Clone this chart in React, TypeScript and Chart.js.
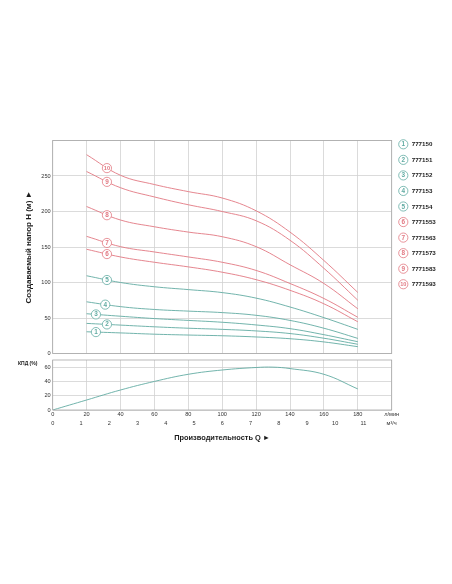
import React, { useEffect, useRef } from 'react';
import { Chart, registerables } from 'chart.js';

Chart.register(...registerables);

// ---- data ----
const FLOW = [20, 40, 60, 80, 100, 120, 140, 160, 180];
const H_1 = [30.6, 29, 27.2, 26, 25, 23.3, 20.8, 16.3, 9.6];
const H_2 = [42.4, 40, 37.6, 35.6, 34, 31.8, 28.1, 21.5, 13];
const H_3 = [56, 52.5, 49.2, 46.6, 44, 40.2, 35, 26.5, 16.6];
const H_4 = [72.8, 66, 62, 59.7, 57.6, 53.8, 46.6, 35.6, 21.3];
const H_5 = [109.5, 100, 94, 90, 85.8, 78, 65.5, 50.5, 34];
const H_6 = [146.8, 136, 128.5, 122, 114.5, 104, 89, 70, 44.7];
const H_7 = [165, 150.5, 143, 136, 128.5, 117, 98.6, 77.5, 51];
const H_8 = [207, 188, 178.5, 171, 164.5, 150.5, 125, 98.6, 63];
const H_9 = [256.3, 233.5, 220.5, 209.5, 200, 187, 159.5, 120, 75];
const H_10 = [280, 251, 238, 228, 219, 201, 171, 131, 86];
const HEADS = [H_1, H_2, H_3, H_4, H_5, H_6, H_7, H_8, H_9, H_10];
const MODELS = ['777150', '777151', '777152', '777153', '777154', '7771553', '7771563', '7771573', '7771583', '7771593'];
const LABEL_Q = [25.5, 32, 25.5, 31, 32, 32, 32, 32, 32, 32];

const EFF_FLOW = [0, 20, 40, 60, 80, 100, 120, 130, 140, 160, 180];
const EFF = [0, 14, 28, 40, 50, 56, 59.5, 60, 58, 50, 29.5];

const Y_TITLE = 'Создаваемый напор H (м) ►';
const X_TITLE = 'Производительность Q ►';
const EFF_TITLE = 'КПД (%)';
const UNIT_LPM = 'л/мин';
const UNIT_M3H = 'м³/ч';

const TEAL = '#62aca3';
const RED = '#e27882';
const GRID = '#d2d2d2';
const FRAME = '#a8a8a8';
const TXT = '#333333';
const FONT = "'Liberation Sans', Arial, sans-serif";

const colorOf = (i: number) => (i < 5 ? TEAL : RED);

function bezierYAt(pts: any[], px: number): number {
  for (let i = 0; i < pts.length - 1; i++) {
    const a = pts[i], b = pts[i + 1];
    if (px >= a.x && px <= b.x) {
      const x0 = a.x, x1 = a.cp2x ?? a.x, x2 = b.cp1x ?? b.x, x3 = b.x;
      const y0 = a.y, y1 = a.cp2y ?? a.y, y2 = b.cp1y ?? b.y, y3 = b.y;
      const bx = (t: number) => {
        const u = 1 - t;
        return u * u * u * x0 + 3 * u * u * t * x1 + 3 * u * t * t * x2 + t * t * t * x3;
      };
      let lo = 0, hi = 1;
      for (let k = 0; k < 40; k++) {
        const m = (lo + hi) / 2;
        if (bx(m) < px) lo = m; else hi = m;
      }
      const t = (lo + hi) / 2, u = 1 - t;
      return u * u * u * y0 + 3 * u * u * t * y1 + 3 * u * t * t * y2 + t * t * t * y3;
    }
  }
  return pts[0].y;
}

function drawBadge(ctx: CanvasRenderingContext2D, x: number, y: number, n: number, color: string) {
  ctx.save();
  ctx.beginPath();
  ctx.arc(x, y, 4.6, 0, Math.PI * 2);
  ctx.fillStyle = '#ffffff';
  ctx.fill();
  ctx.lineWidth = 0.8;
  ctx.strokeStyle = color;
  ctx.stroke();
  ctx.fillStyle = color;
  ctx.font = `bold ${n >= 10 ? 5.6 : 6.4}px ${FONT}`;
  ctx.textAlign = 'center';
  ctx.textBaseline = 'middle';
  ctx.fillText(String(n), x, y + 0.3);
  ctx.restore();
}

const framePlugin = {
  id: 'frame',
  afterDraw(chart: any) {
    const { ctx, chartArea: a } = chart;
    ctx.save();
    ctx.strokeStyle = FRAME;
    ctx.lineWidth = 0.8;
    ctx.strokeRect(a.left, a.top, a.right - a.left, a.bottom - a.top);
    ctx.restore();
  },
};

const curveLabelPlugin = {
  id: 'curveLabels',
  afterDatasetsDraw(chart: any) {
    const ctx = chart.ctx;
    const xs = chart.scales.x;
    chart.data.datasets.forEach((_ds: any, i: number) => {
      const meta = chart.getDatasetMeta(i);
      const px = xs.getPixelForValue(LABEL_Q[i]);
      const py = bezierYAt(meta.data, px);
      drawBadge(ctx, px, py, i + 1, colorOf(i));
    });
  },
};

const legendPlugin = {
  id: 'sideLegend',
  afterDraw(chart: any) {
    const { ctx, chartArea: a } = chart;
    MODELS.forEach((m, i) => {
      const cx = a.right + 11.6;
      const cy = a.top + 3.8 + i * 15.55;
      drawBadge(ctx, cx, cy, i + 1, colorOf(i));
      ctx.save();
      ctx.fillStyle = '#222222';
      ctx.font = `bold 6.2px ${FONT}`;
      ctx.textAlign = 'left';
      ctx.textBaseline = 'middle';
      ctx.fillText(m, cx + 8.4, cy + 0.3);
      ctx.restore();
    });
  },
};

const effTitlePlugin = {
  id: 'effTitle',
  afterDraw(chart: any) {
    const { ctx, chartArea: a } = chart;
    ctx.save();
    ctx.fillStyle = '#222222';
    ctx.font = `bold 5px ${FONT}`;
    ctx.textAlign = 'left';
    ctx.textBaseline = 'middle';
    ctx.fillText(EFF_TITLE, 18, a.top + 3.4);
    ctx.restore();
  },
};

const tickFont = { family: FONT, size: 5.6 };

export default function App() {
  const topRef = useRef<HTMLCanvasElement>(null);
  const botRef = useRef<HTMLCanvasElement>(null);

  useEffect(() => {
    const top = new Chart(topRef.current!, {
      type: 'line',
      data: {
        datasets: HEADS.map((h, i) => ({
          label: MODELS[i],
          data: FLOW.map((q, k) => ({ x: q, y: h[k] })),
          borderColor: colorOf(i),
          borderWidth: 0.9,
          pointRadius: 0,
          tension: 0.4,
          fill: false,
        })),
      },
      options: {
        animation: false,
        responsive: false,
        devicePixelRatio: 1,
        layout: { padding: { left: 0, right: 60.3, top: 20.5, bottom: 6.5 } },
        plugins: { legend: { display: false }, tooltip: { enabled: false } },
        scales: {
          x: {
            type: 'linear',
            min: 0,
            max: 200,
            ticks: { display: false, stepSize: 20 },
            grid: { color: GRID, lineWidth: 0.8, drawTicks: false },
            border: { display: false },
            afterFit: (s: any) => { s.height = 0; },
          },
          y: {
            type: 'linear',
            min: 0,
            max: 300,
            ticks: {
              stepSize: 50,
              padding: 2,
              color: TXT,
              font: tickFont,
              callback: (v: any) => (v === 300 ? '' : String(v)),
            },
            grid: { color: GRID, lineWidth: 0.8, drawTicks: false },
            border: { display: false },
            title: {
              display: true,
              text: Y_TITLE,
              color: '#1a1a1a',
              font: { family: FONT, size: 8, weight: 'bold' },
              padding: { top: 24.2, bottom: 0 },
            },
            afterFit: (s: any) => { s.width = 52.7; },
          },
        },
      },
      plugins: [framePlugin, curveLabelPlugin, legendPlugin],
    });

    const bot = new Chart(botRef.current!, {
      type: 'line',
      data: {
        datasets: [
          {
            label: EFF_TITLE,
            data: EFF_FLOW.map((q, k) => ({ x: q, y: EFF[k] })),
            borderColor: TEAL,
            borderWidth: 0.9,
            pointRadius: 0,
            tension: 0.4,
            fill: false,
          },
        ],
      },
      options: {
        animation: false,
        responsive: false,
        devicePixelRatio: 1,
        layout: { padding: { left: 0, right: 60.3, top: 10, bottom: 6 } },
        plugins: { legend: { display: false }, tooltip: { enabled: false } },
        scales: {
          x: {
            type: 'linear',
            position: 'bottom',
            weight: 0,
            min: 0,
            max: 200,
            ticks: {
              stepSize: 20,
              padding: 1,
              color: TXT,
              font: tickFont,
              maxRotation: 0,
              autoSkip: false,
              callback: (v: any) => (v === 200 ? UNIT_LPM : String(v)),
            },
            grid: { color: GRID, lineWidth: 0.8, drawTicks: false },
            border: { display: false },
            afterFit: (s: any) => { s.height = 9; },
          },
          x2: {
            type: 'linear',
            position: 'bottom',
            weight: 1,
            min: 0,
            max: 12,
            ticks: {
              stepSize: 1,
              padding: 1,
              color: TXT,
              font: tickFont,
              maxRotation: 0,
              autoSkip: false,
              callback: (v: any) => (v === 12 ? UNIT_M3H : String(v)),
            },
            grid: { display: false, drawTicks: false },
            border: { display: false },
            title: {
              display: true,
              text: X_TITLE,
              color: '#1a1a1a',
              font: { family: FONT, size: 7.4, weight: 'bold' },
              padding: { top: 0, bottom: 1.5 },
            },
            afterFit: (s: any) => { s.height = 25; },
          },
          y: {
            type: 'linear',
            min: 0,
            max: 70,
            ticks: {
              stepSize: 10,
              padding: 2,
              color: TXT,
              font: tickFont,
              callback: (v: any) => (v % 20 === 0 && v < 70 ? String(v) : ''),
            },
            grid: { color: GRID, lineWidth: 0.8, drawTicks: false },
            border: { display: false },
            afterFit: (s: any) => { s.width = 52.7; },
          },
        },
      },
      plugins: [framePlugin, effTitlePlugin],
    });

    return () => {
      top.destroy();
      bot.destroy();
    };
  }, []);

  return (
    <div style={{ position: 'absolute', left: 0, top: 0, width: 452, height: 584, background: '#ffffff' }}>
      <canvas
        ref={topRef}
        width={452}
        height={240}
        style={{ position: 'absolute', left: 0, top: 120, width: 452, height: 240 }}
      />
      <canvas
        ref={botRef}
        width={452}
        height={100}
        style={{ position: 'absolute', left: 0, top: 350, width: 452, height: 100 }}
      />
    </div>
  );
}
